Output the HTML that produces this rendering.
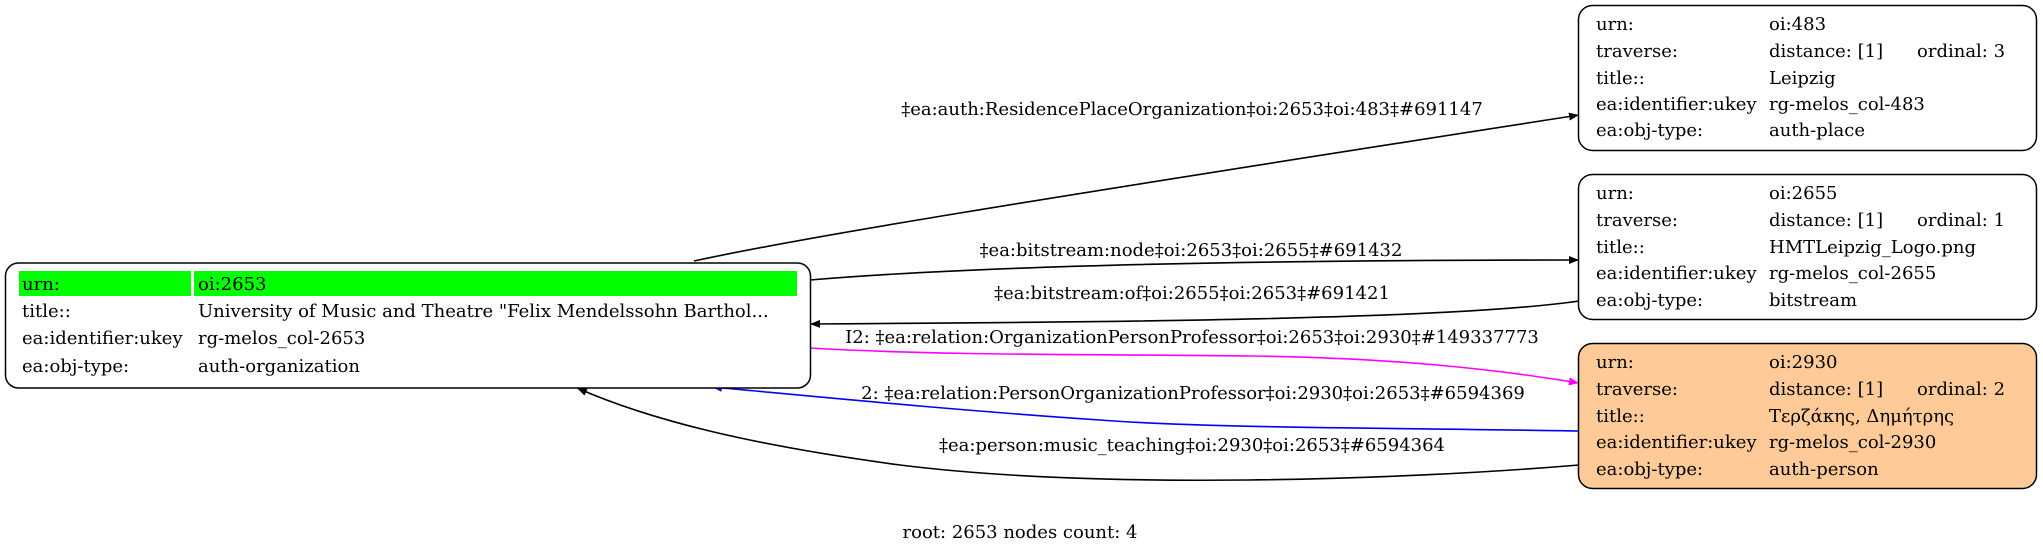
<!DOCTYPE html>
<html><head><meta charset="utf-8"><style>
html,body{margin:0;padding:0;background:#fff;}
svg{display:block;}
text{font-family:"DejaVu Serif","Liberation Serif",serif;font-size:18px;fill:#000;}
</style></head><body>
<svg width="2043" height="553" viewBox="0 0 2043 553" xmlns="http://www.w3.org/2000/svg">
<defs>
<marker id="ak" markerWidth="10" markerHeight="8" refX="10" refY="4" orient="auto" markerUnits="userSpaceOnUse" viewBox="0 0 10 8"><path d="M0,0 L10,4 L0,8 z" fill="#000"/></marker>
<marker id="am" markerWidth="10" markerHeight="8" refX="10" refY="4" orient="auto" markerUnits="userSpaceOnUse" viewBox="0 0 10 8"><path d="M0,0 L10,4 L0,8 z" fill="#f0f"/></marker>
<marker id="ab" markerWidth="10" markerHeight="8" refX="10" refY="4" orient="auto" markerUnits="userSpaceOnUse" viewBox="0 0 10 8"><path d="M0,0 L10,4 L0,8 z" fill="#00f"/></marker>
</defs>
<!-- edges -->
<g fill="none" stroke-width="1.6">
<path d="M694,261 C800,238 1000,205 1579,115" stroke="#000" marker-end="url(#ak)"/>
<path d="M810,280 C1000,264 1300,260 1579,260" stroke="#000" marker-end="url(#ak)"/>
<path d="M1579,301 C1450,320 1100,322 810,324" stroke="#000" marker-end="url(#ak)"/>
<path d="M809,348 C950,356 1100,354 1250,356 C1400,358 1500,370 1579,383" stroke="#f0f" marker-end="url(#am)"/>
<path d="M1579,431 C1400,428 1200,428 1100,420 C950,410 800,395 712,387" stroke="#00f" marker-end="url(#ab)"/>
<path d="M1579,465 C1400,480 1100,490 900,465 C750,445 650,420 577,388" stroke="#000" marker-end="url(#ak)"/>
</g>
<!-- edge labels -->
<g text-anchor="middle">
<text x="1192" y="115">‡ea:auth:ResidencePlaceOrganization‡oi:2653‡oi:483‡#691147</text>
<text x="1191" y="256">‡ea:bitstream:node‡oi:2653‡oi:2655‡#691432</text>
<text x="1192" y="299">‡ea:bitstream:of‡oi:2655‡oi:2653‡#691421</text>
<text x="1192" y="343">I2: ‡ea:relation:OrganizationPersonProfessor‡oi:2653‡oi:2930‡#149337773</text>
<text x="1193" y="399">2: ‡ea:relation:PersonOrganizationProfessor‡oi:2930‡oi:2653‡#6594369</text>
<text x="1192" y="451">‡ea:person:music_teaching‡oi:2930‡oi:2653‡#6594364</text>
<text x="1020" y="538">root: 2653 nodes count: 4</text>
</g>
<!-- left node -->
<rect x="5.5" y="263" width="805" height="125" rx="13" fill="#fff" stroke="#000" stroke-width="1.5"/>
<rect x="19" y="271" width="172" height="25" fill="#0f0"/>
<rect x="194" y="271" width="603" height="25" fill="#0f0"/>
<text x="22" y="290">urn:</text><text x="198" y="290">oi:2653</text>
<text x="22" y="317">title::</text><text x="198" y="317">University of Music and Theatre "Felix Mendelssohn Barthol...</text>
<text x="22" y="344">ea:identifier:ukey</text><text x="198" y="344">rg-melos_col-2653</text>
<text x="22" y="372">ea:obj-type:</text><text x="198" y="372">auth-organization</text>
<!-- right node 1 -->
<rect x="1578.5" y="5.5" width="458" height="145" rx="14" fill="#fff" stroke="#000" stroke-width="1.5"/>
<text x="1596" y="30">urn:</text><text x="1769" y="30">oi:483</text>
<text x="1596" y="57">traverse:</text><text x="1769" y="57">distance: [1]</text><text x="1917" y="57">ordinal: 3</text>
<text x="1596" y="84">title::</text><text x="1769" y="84">Leipzig</text>
<text x="1596" y="110">ea:identifier:ukey</text><text x="1769" y="110">rg-melos_col-483</text>
<text x="1596" y="136">ea:obj-type:</text><text x="1769" y="136">auth-place</text>
<!-- right node 2 -->
<rect x="1578.5" y="174.5" width="458" height="145" rx="14" fill="#fff" stroke="#000" stroke-width="1.5"/>
<text x="1596" y="199">urn:</text><text x="1769" y="199">oi:2655</text>
<text x="1596" y="226">traverse:</text><text x="1769" y="226">distance: [1]</text><text x="1917" y="226">ordinal: 1</text>
<text x="1596" y="253">title::</text><text x="1769" y="253">HMTLeipzig_Logo.png</text>
<text x="1596" y="279">ea:identifier:ukey</text><text x="1769" y="279">rg-melos_col-2655</text>
<text x="1596" y="306">ea:obj-type:</text><text x="1769" y="306">bitstream</text>
<!-- right node 3 -->
<rect x="1578.5" y="343.5" width="458" height="145" rx="14" fill="#fdca98" stroke="#000" stroke-width="1.5"/>
<text x="1596" y="368">urn:</text><text x="1769" y="368">oi:2930</text>
<text x="1596" y="395">traverse:</text><text x="1769" y="395">distance: [1]</text><text x="1917" y="395">ordinal: 2</text>
<text x="1596" y="422">title::</text><text x="1769" y="422">Τερζάκης, Δημήτρης</text>
<text x="1596" y="448">ea:identifier:ukey</text><text x="1769" y="448">rg-melos_col-2930</text>
<text x="1596" y="475">ea:obj-type:</text><text x="1769" y="475">auth-person</text>
</svg>
</body></html>
